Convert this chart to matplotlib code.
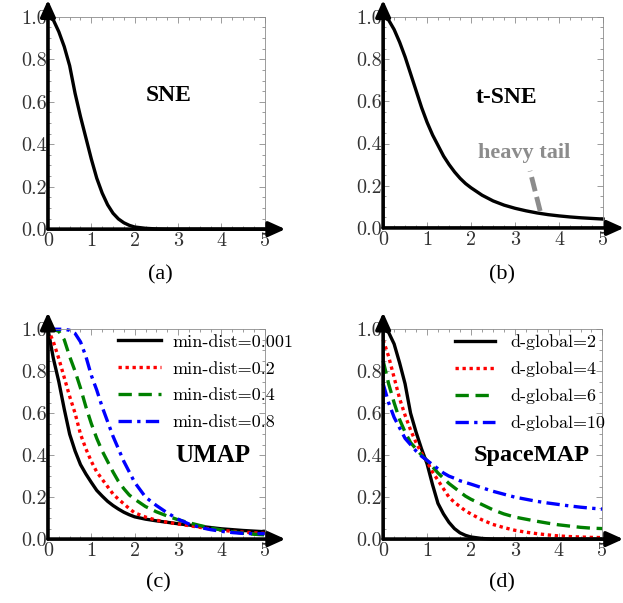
import matplotlib
matplotlib.use("Agg")
import matplotlib.pyplot as plt
from matplotlib.ticker import MultipleLocator

# sample positions along the distance axis (finer where the curves bend)
x = [0, 0.125, 0.25, 0.375, 0.5, 0.625, 0.75, 0.875, 1.0, 1.125, 1.25,
     1.375, 1.5, 1.625, 1.75, 1.875, 2.0, 2.25, 2.5, 2.75, 3.0, 3.25,
     3.5, 3.75, 4.0, 4.25, 4.5, 4.75, 5.0]

# (a) SNE similarity
sne = [1.0, 0.985, 0.93, 0.86, 0.77, 0.64, 0.53, 0.43, 0.33, 0.24, 0.17,
       0.115, 0.075, 0.048, 0.03, 0.018, 0.01, 0.004, 0.001, 0, 0, 0,
       0, 0, 0, 0, 0, 0, 0]

# (b) t-SNE similarity
tsne = [1.0, 0.985, 0.94, 0.88, 0.81, 0.73, 0.65, 0.57, 0.50, 0.44, 0.39,
        0.34, 0.30, 0.265, 0.235, 0.21, 0.19, 0.155, 0.128, 0.108, 0.093, 0.081,
        0.071, 0.063, 0.057, 0.052, 0.048, 0.045, 0.042]

# (c) UMAP for several min-dist values
umap_labels = ["min-dist=0.001", "min-dist=0.2", "min-dist=0.4", "min-dist=0.8"]
umap_001 = [1.0, 0.86, 0.75, 0.62, 0.50, 0.42, 0.355, 0.31, 0.27, 0.232, 0.205,
            0.18, 0.16, 0.143, 0.128, 0.116, 0.106, 0.095, 0.087, 0.08, 0.073, 0.067,
            0.061, 0.055, 0.049, 0.045, 0.041, 0.038, 0.035]
umap_02 = [1.0, 0.94, 0.86, 0.77, 0.68, 0.60, 0.50, 0.43, 0.37, 0.32, 0.285,
           0.25, 0.215, 0.19, 0.168, 0.145, 0.125, 0.105, 0.09, 0.08, 0.072, 0.064,
           0.056, 0.048, 0.042, 0.037, 0.033, 0.03, 0.027]
umap_04 = [1.0, 1.0, 0.99, 0.95, 0.87, 0.80, 0.72, 0.63, 0.55, 0.48, 0.42,
           0.37, 0.32, 0.275, 0.24, 0.21, 0.19, 0.155, 0.13, 0.11, 0.092, 0.078,
           0.065, 0.053, 0.043, 0.035, 0.028, 0.023, 0.02]
umap_08 = [1.0, 1.0, 1.0, 1.0, 0.995, 0.98, 0.94, 0.87, 0.78, 0.71, 0.63,
           0.56, 0.49, 0.43, 0.37, 0.32, 0.27, 0.20, 0.16, 0.125, 0.095, 0.072,
           0.056, 0.045, 0.037, 0.031, 0.027, 0.026, 0.026]

# (d) SpaceMAP for several d-global values
smap_labels = ["d-global=2", "d-global=4", "d-global=6", "d-global=10"]
smap_2 = [1.0, 0.985, 0.93, 0.84, 0.74, 0.60, 0.51, 0.43, 0.36, 0.26, 0.17,
          0.12, 0.08, 0.05, 0.03, 0.018, 0.01, 0.003, 0, 0, 0, 0,
          0, 0, 0, 0, 0, 0, 0]
smap_4 = [0.95, 0.87, 0.77, 0.67, 0.59, 0.52, 0.46, 0.41, 0.37, 0.32, 0.28,
          0.24, 0.20, 0.175, 0.155, 0.135, 0.12, 0.092, 0.07, 0.055, 0.042, 0.033,
          0.026, 0.02, 0.015, 0.012, 0.01, 0.008, 0.007]
smap_6 = [0.85, 0.74, 0.65, 0.57, 0.51, 0.46, 0.43, 0.40, 0.375, 0.345, 0.315,
          0.29, 0.265, 0.245, 0.225, 0.205, 0.19, 0.165, 0.14, 0.12, 0.105, 0.095,
          0.085, 0.076, 0.068, 0.062, 0.056, 0.052, 0.05]
smap_10 = [0.74, 0.65, 0.58, 0.53, 0.48, 0.45, 0.42, 0.395, 0.375, 0.355, 0.335,
           0.315, 0.30, 0.29, 0.278, 0.27, 0.262, 0.245, 0.228, 0.214, 0.20, 0.19,
           0.18, 0.172, 0.165, 0.158, 0.152, 0.147, 0.143]

styles = [
    dict(color="black", linestyle="-"),
    dict(color="red", linestyle=(0, (1, 1.1))),
    dict(color="green", linestyle=(0, (4, 2))),
    dict(color="blue", linestyle=(0, (4, 1.6, 1, 1.6))),
]

SERIF = "Liberation Serif"
TICKFONT = "cmr10"
GRAY = "#8c8c8c"


def setup(ax):
    ax.set_xlim(0, 5)
    ax.set_ylim(0, 1)
    ax.set_xticks(range(6))
    ax.set_yticks([0, 0.2, 0.4, 0.6, 0.8, 1.0])
    ax.xaxis.set_minor_locator(MultipleLocator(0.25))
    ax.yaxis.set_minor_locator(MultipleLocator(0.05))
    ax.tick_params(which="both", direction="in", top=True, right=True,
                   color=GRAY, width=0.6, labelsize=14.5, labelcolor="#333333")
    ax.tick_params(which="major", length=4)
    ax.tick_params(which="minor", length=2)
    ax.tick_params(axis="y", pad=1)
    ax.tick_params(axis="x", pad=2)
    for lab in ax.get_xticklabels() + ax.get_yticklabels():
        lab.set_family(TICKFONT)
    for s in ["top", "right"]:
        ax.spines[s].set_color(GRAY)
        ax.spines[s].set_linewidth(0.6)
    for s in ["left", "bottom"]:
        ax.spines[s].set_visible(False)
    arrow = dict(arrowstyle="-|>,head_length=1.0,head_width=0.45", lw=2.6,
                 color="black", shrinkA=0, shrinkB=0)
    ax.annotate("", xy=(1.095, 0), xytext=(0, 0), xycoords="axes fraction",
                arrowprops=arrow, annotation_clip=False)
    ax.annotate("", xy=(0, 1.08), xytext=(0, 0), xycoords="axes fraction",
                arrowprops=arrow, annotation_clip=False)


fig = plt.figure(figsize=(6.23, 6.03), dpi=100)
ax_a = fig.add_axes([0.077, 0.620, 0.348, 0.352])
ax_b = fig.add_axes([0.615, 0.622, 0.353, 0.350])
ax_c = fig.add_axes([0.077, 0.106, 0.348, 0.348])
ax_d = fig.add_axes([0.615, 0.106, 0.352, 0.348])

for ax in [ax_a, ax_b, ax_c, ax_d]:
    setup(ax)

lw = 2.4
ax_a.plot(x, sne, color="black", lw=lw, clip_on=False)
ax_a.text(2.79, 0.63, "SNE", ha="center", va="center", fontsize=17,
          fontweight="bold", family=SERIF)

ax_b.plot(x, tsne, color="black", lw=lw, clip_on=False)
ax_b.text(2.8, 0.62, "t-SNE", ha="center", va="center", fontsize=17,
          fontweight="bold", family=SERIF)
ax_b.plot([3.57, 3.34], [0.08, 0.27], color=GRAY, lw=3.5, linestyle=(0, (3, 1.2)))
ax_b.text(3.2, 0.355, "heavy tail", ha="center", va="center", fontsize=16,
          fontweight="bold", family=SERIF, color=GRAY)

for ys, lab, st in zip([umap_001, umap_02, umap_04, umap_08], umap_labels, styles):
    ax_c.plot(x, ys, lw=lw, label=lab, clip_on=False, **st)
ax_c.text(3.8, 0.40, "UMAP", ha="center", va="center", fontsize=18,
          fontweight="bold", family=SERIF)
ax_c.legend(loc="upper left", bbox_to_anchor=(0.323, 0.977), frameon=False,
            prop={"family": TICKFONT, "size": 13}, handlelength=2.4,
            handletextpad=0.6, labelspacing=0.62, borderaxespad=0, borderpad=0)

for ys, lab, st in zip([smap_2, smap_4, smap_6, smap_10], smap_labels, styles):
    ax_d.plot(x, ys, lw=lw, label=lab, clip_on=False, **st)
ax_d.text(3.38, 0.40, "SpaceMAP", ha="center", va="center", fontsize=17.5,
          fontweight="bold", family=SERIF)
ax_d.legend(loc="upper left", bbox_to_anchor=(0.329, 0.977), frameon=False,
            prop={"family": TICKFONT, "size": 13}, handlelength=2.2,
            handletextpad=0.83, labelspacing=0.62, borderaxespad=0, borderpad=0)

for cx, cy, lab in [(160, 275, "(a)"), (502, 275, "(b)"),
                    (158, 583, "(c)"), (502, 583, "(d)")]:
    fig.text(cx / 623, 1 - cy / 603, lab, ha="center", va="center",
             fontsize=16, family=SERIF)

fig.savefig("out.png", dpi=100)
